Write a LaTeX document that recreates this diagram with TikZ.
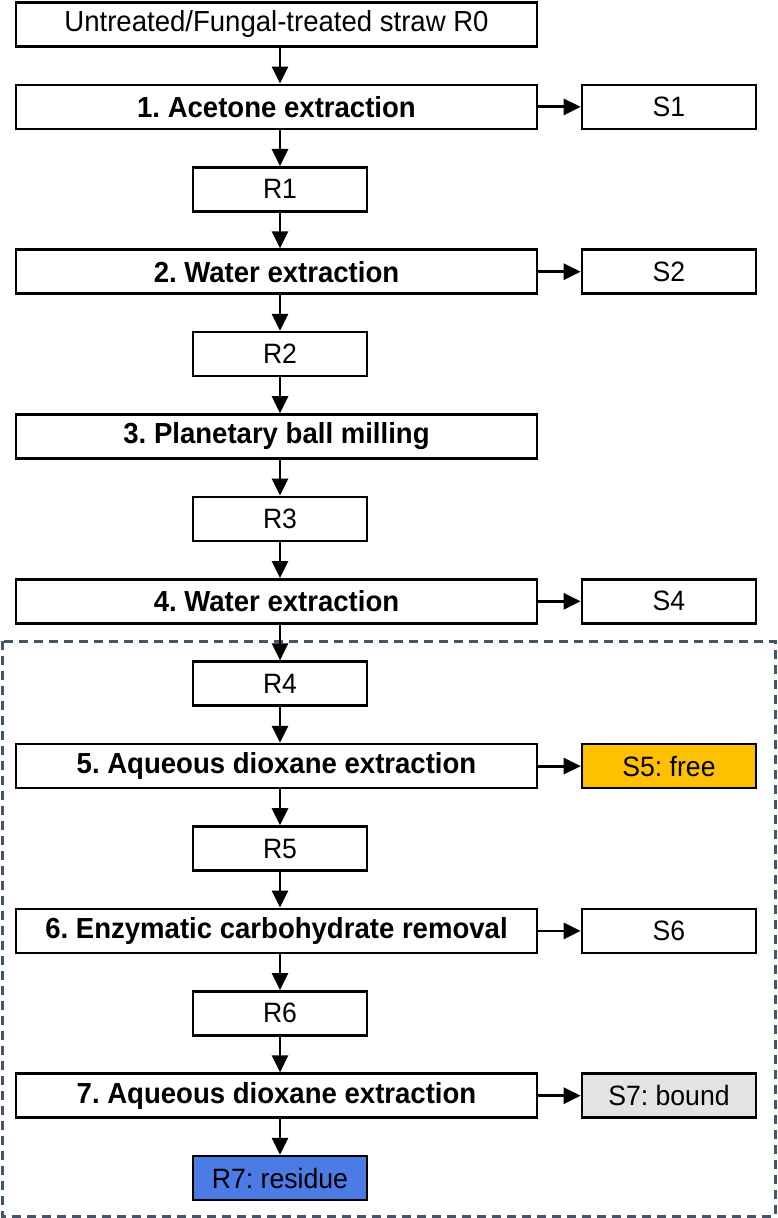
\documentclass[tikz,border=0pt]{standalone}
\usepackage{fontspec}
\setsansfont{Liberation Sans}[FakeStretch=0.95]
\usetikzlibrary{arrows.meta}
\usetikzlibrary{shapes}

\definecolor{freeColor}{HTML}{FFC000}
\definecolor{boundColor}{HTML}{E3E3E3}
\definecolor{residueColor}{HTML}{4B7BE5}
\definecolor{frameColor}{HTML}{44546A}

\begin{document}
\frenchspacing
\begin{tikzpicture}[x = 0.5pt, y = -0.5pt, font=\sffamily\fontsize{14}{16}\selectfont]
	\tikzstyle{boxStyle} = [shape = rectangle, draw, line width = 1.3pt, inner sep = 0pt, minimum height = 22pt]
	\tikzstyle{stepStyle} = [boxStyle, minimum width = 260.5pt, font = \sffamily\bfseries\fontsize{14.5}{16}\selectfont]
	\tikzstyle{residueStyle} = [boxStyle, minimum width = 87pt]
	\tikzstyle{sideStyle} = [boxStyle, minimum width = 87pt]
	\tikzstyle{arrowStyle} = [line width = 1.4pt, -{Triangle[length = 8.5pt, width = 8pt]}]
	\useasboundingbox (0, 0) rectangle (777, 1218);
	\draw[frameColor, line width = 1.5pt, dash pattern = on 4.5pt off 3pt] (2, 641) rectangle (775, 1216);
	\node[stepStyle, font = \sffamily\fontsize{14.5}{16}\selectfont] (r0) at (276.5, 24.5) {Untreated/Fungal-treated straw R0};
	\node[stepStyle] (step1) at (276.5, 106.9) {1. Acetone extraction};
	\node[sideStyle] (s1) at (669, 106.9) {S1};
	\node[residueStyle] (r1) at (280, 189.3) {R1};
	\node[stepStyle] (step2) at (276.5, 271.7) {2. Water extraction};
	\node[sideStyle] (s2) at (669, 271.7) {S2};
	\node[residueStyle] (r2) at (280, 354.1) {R2};
	\node[stepStyle] (step3) at (276.5, 436.5) {3. Planetary ball milling};
	\node[residueStyle] (r3) at (280, 518.9) {R3};
	\node[stepStyle] (step4) at (276.5, 601.3) {4. Water extraction};
	\node[sideStyle] (s4) at (669, 601.3) {S4};
	\node[residueStyle] (r4) at (280, 683.7) {R4};
	\node[stepStyle] (step5) at (276.5, 766.1) {5. Aqueous dioxane extraction};
	\node[sideStyle, fill = freeColor] (s5) at (669, 766.1) {S5: free};
	\node[residueStyle] (r5) at (280, 848.5) {R5};
	\node[stepStyle] (step6) at (276.5, 930.9) {6. Enzymatic carbohydrate removal};
	\node[sideStyle] (s6) at (669, 930.9) {S6};
	\node[residueStyle] (r6) at (280, 1013.3) {R6};
	\node[stepStyle] (step7) at (276.5, 1095.7) {7. Aqueous dioxane extraction};
	\node[sideStyle, fill = boundColor] (s7) at (669, 1095.7) {S7: bound};
	\node[residueStyle, fill = residueColor] (r7) at (280, 1178.1) {R7: residue};
	\draw[arrowStyle] (r0.south -| r1) -- (step1.north -| r1);
	\draw[arrowStyle] (step1.south -| r1) -- (r1);
	\draw[arrowStyle] (r1) -- (step2.north -| r1);
	\draw[arrowStyle] (step2.south -| r2) -- (r2);
	\draw[arrowStyle] (r2) -- (step3.north -| r2);
	\draw[arrowStyle] (step3.south -| r3) -- (r3);
	\draw[arrowStyle] (r3) -- (step4.north -| r3);
	\draw[arrowStyle] (step4.south -| r4) -- (r4);
	\draw[arrowStyle] (r4) -- (step5.north -| r4);
	\draw[arrowStyle] (step5.south -| r5) -- (r5);
	\draw[arrowStyle] (r5) -- (step6.north -| r5);
	\draw[arrowStyle] (step6.south -| r6) -- (r6);
	\draw[arrowStyle] (r6) -- (step7.north -| r6);
	\draw[arrowStyle] (step7.south -| r7) -- (r7);
	\draw[arrowStyle] (step1) -- (s1);
	\draw[arrowStyle] (step2) -- (s2);
	\draw[arrowStyle] (step4) -- (s4);
	\draw[arrowStyle] (step5) -- (s5);
	\draw[arrowStyle] (step6) -- (s6);
	\draw[arrowStyle] (step7) -- (s7);
\end{tikzpicture}
\end{document}
